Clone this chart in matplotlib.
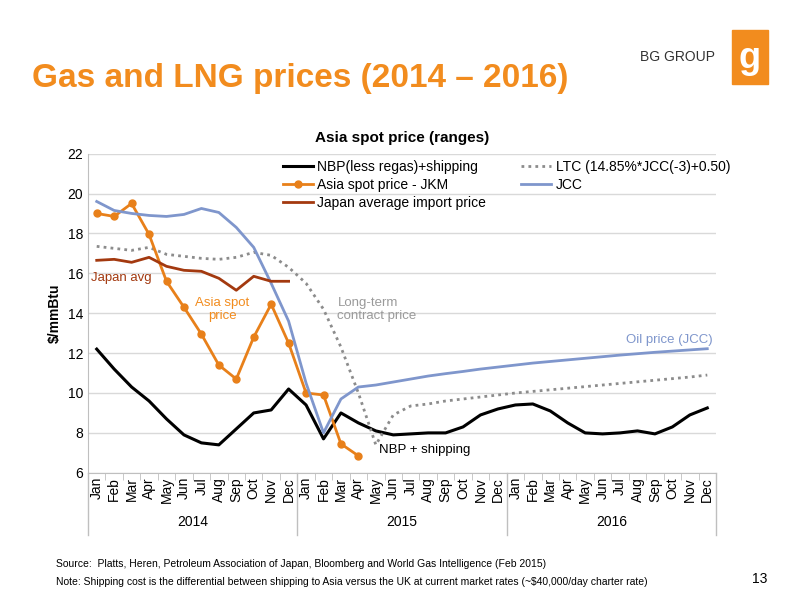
import matplotlib.pyplot as plt
import numpy as np
from matplotlib.patches import Rectangle

months = ["Jan", "Feb", "Mar", "Apr", "May", "Jun", "Jul", "Aug", "Sep", "Oct", "Nov", "Dec"] * 3
years = ["2014", "2015", "2016"]

nbp = [12.2, 11.2, 10.3, 9.6, 8.7, 7.9, 7.5, 7.4, 8.2, 9.0, 9.15, 10.2,
       9.4, 7.7, 9.0, 8.5, 8.1, 7.9, 7.95, 8.0, 8.0, 8.3, 8.9, 9.2,
       9.4, 9.45, 9.1, 8.5, 8.0, 7.95, 8.0, 8.1, 7.95, 8.3, 8.9, 9.25]
jkm = [19.0, 18.85, 19.5, 17.95, 15.6, 14.3, 12.95, 11.4, 10.7, 12.8, 14.45, 12.5,
       10.0, 9.9, 7.45, 6.85]
japan_avg = [16.65, 16.7, 16.55, 16.8, 16.35, 16.15, 16.1, 15.75, 15.15, 15.85, 15.6, 15.6]
jcc = [19.6, 19.15, 19.0, 18.9, 18.85, 18.95, 19.25, 19.05, 18.3, 17.3, 15.5, 13.6,
       10.5, 8.0, 9.7, 10.3, 10.4, 10.55, 10.7, 10.85, 10.97, 11.08, 11.2, 11.3,
       11.4, 11.5, 11.58, 11.66, 11.74, 11.82, 11.9, 11.97, 12.04, 12.1, 12.16, 12.22]
ltc = [17.35, 17.25, 17.15, 17.3, 16.95, 16.85, 16.75, 16.7, 16.8, 17.05, 16.9, 16.3,
       15.5, 14.2, 12.3, 10.0, 7.4, 8.9, 9.35, 9.45, 9.6, 9.7, 9.8, 9.9,
       10.0, 10.08, 10.16, 10.24, 10.32, 10.4, 10.48, 10.56, 10.64, 10.72, 10.8, 10.9]

orange = "#F28C1E"
fig = plt.figure(figsize=(8, 6), dpi=100)
plt.rcParams['font.family'] = ['Liberation Sans', 'DejaVu Sans']

fig.text(0.04, 0.855, "Gas and LNG prices (2014 \u2013 2016)", color=orange,
         fontsize=24, fontweight="bold")
fig.text(0.80, 0.905, "BG GROUP", fontsize=10, color="#333333", va="center")
fig.patches.append(Rectangle((0.915, 0.86), 0.045, 0.09, transform=fig.transFigure,
                             color=orange, zorder=0))
fig.text(0.9375, 0.903, "g", fontsize=26, color="white", ha="center", va="center",
         fontweight="bold")

ax = fig.add_axes([0.11, 0.212, 0.785, 0.532])
x = np.arange(36)
ax.plot(x, nbp, color="black", lw=2.2, label="NBP(less regas)+shipping")
ax.plot(x, ltc, color="#8C8C8C", lw=2, ls=(0, (1, 1.5)), label="LTC (14.85%*JCC(-3)+0.50)")
ax.plot(x[:len(jkm)], jkm, color="#E8801A", lw=2, marker="o", ms=5, label="Asia spot price - JKM")
ax.plot(x, jcc, color="#7F96CC", lw=2, label="JCC")
ax.plot(x[:len(japan_avg)], japan_avg, color="#A3390F", lw=2, label="Japan average import price")

ax.set_ylim(6, 22)
ax.set_xlim(-0.5, 35.5)
ax.set_yticks(range(6, 23, 2))
ax.yaxis.grid(True, color="#D9D9D9", lw=1)
ax.set_axisbelow(True)
for s in ["top", "right"]:
    ax.spines[s].set_visible(False)
ax.spines["left"].set_color("#BFBFBF")
ax.spines["bottom"].set_color("#BFBFBF")
ax.tick_params(axis="y", length=0, labelsize=10)
ax.set_xticks(x)
ax.set_xticklabels(months, rotation=90, fontsize=10)
ax.tick_params(axis="x", length=0, pad=3)
ax.set_xticks(np.arange(-0.5, 36, 1), minor=True)
ax.tick_params(axis="x", which="minor", length=5, color="#BFBFBF")
for b in [-0.5, 11.5, 23.5, 35.5]:
    ax.plot([b, b], [6, 2.9], color="#BFBFBF", lw=1, clip_on=False)
for i, yr in enumerate(years):
    ax.text(5.5 + 12 * i, 3.55, yr, ha="center", va="center", fontsize=10)
ax.set_ylabel("$/mmBtu", fontsize=10, fontweight="bold")
ax.set_title("Asia spot price (ranges)", fontsize=11, fontweight="bold", pad=8)

ax.text(-0.3, 15.6, "Japan avg", color="#A3390F", fontsize=9.5)
ax.text(7.2, 14.2, "Asia spot\nprice", color=orange, fontsize=9.5, ha="center", va="center", linespacing=1.1)
ax.text(13.8, 13.7, "Long-term\ncontract price", color="#9A9A9A", fontsize=9.5, linespacing=1.1)
ax.text(35.3, 12.5, "Oil price (JCC)", color="#7F96CC", fontsize=9.5, ha="right")
ax.text(16.2, 7.0, "NBP + shipping", color="black", fontsize=9.5)

handles, labels = ax.get_legend_handles_labels()
order = [0, 2, 4, 1, 3]
ax.legend([handles[i] for i in order], [labels[i] for i in order], ncol=2,
          loc="upper left", bbox_to_anchor=(0.29, 1.02), frameon=False,
          fontsize=10, handlelength=2.2, columnspacing=2.5, labelspacing=0.3,
          handletextpad=0.3)

fig.text(0.07, 0.055, "Source:  Platts, Heren, Petroleum Association of Japan, Bloomberg and World Gas Intelligence (Feb 2015)",
         fontsize=7.5)
fig.text(0.07, 0.025, "Note: Shipping cost is the differential between shipping to Asia versus the UK at current market rates (~$40,000/day charter rate)",
         fontsize=7.5)
fig.text(0.94, 0.028, "13", fontsize=10)

fig.savefig("out.png", dpi=100)
